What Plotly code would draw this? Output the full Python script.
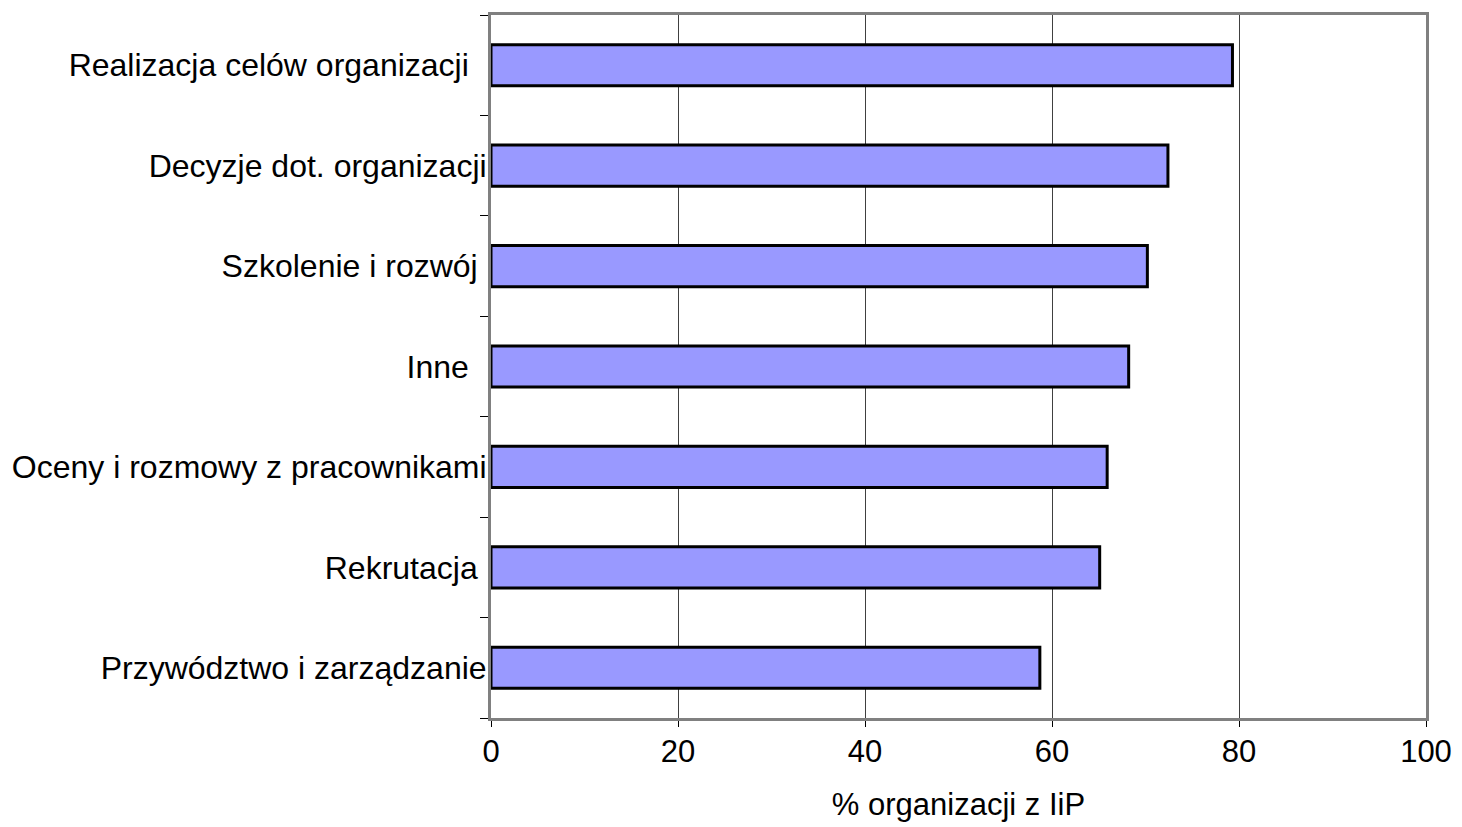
import plotly.graph_objects as go

categories = [
    "Realizacja celów organizacji",
    "Decyzje dot. organizacji",
    "Szkolenie i rozwój",
    "Inne",
    "Oceny i rozmowy z pracownikami",
    "Rekrutacja",
    "Przywództwo i zarządzanie",
]
tick_labels = [
    "Realizacja celów organizacji\u00a0\u00a0",
    "Decyzje dot. organizacji",
    "Szkolenie i rozwój\u00a0",
    "Inne\u00a0\u00a0",
    "Oceny i rozmowy z pracownikami",
    "Rekrutacja\u00a0",
    "Przywództwo i zarządzanie",
]
values = [79.3, 72.4, 70.2, 68.2, 65.9, 65.1, 58.7]
x_ticks = [0, 20, 40, 60, 80, 100]

FONT = "Liberation Sans, Arial, sans-serif"

fig = go.Figure(
    go.Bar(
        x=values,
        y=categories,
        orientation="h",
        width=0.41,
        marker=dict(color="#9999FF", line=dict(color="#000000", width=3)),
    )
)

fig.update_layout(
    width=1462,
    height=827,
    margin=dict(l=491, r=36, t=15, b=109),
    paper_bgcolor="white",
    plot_bgcolor="white",
    showlegend=False,
    font=dict(family=FONT, size=32, color="#000000"),
)

fig.update_xaxes(
    range=[0, 100],
    automargin=False,
    tickvals=x_ticks,
    ticktext=[str(v) for v in x_ticks],
    showgrid=True,
    gridcolor="#404040",
    gridwidth=1,
    zeroline=False,
    showline=True,
    linecolor="#808080",
    linewidth=3,
    mirror=True,
    ticks="outside",
    ticklen=6,
    tickcolor="#000000",
    tickwidth=1,
    ticklabelstandoff=-2,
    tickfont=dict(family=FONT, size=31, color="#000000"),
    title=dict(text="% organizacji z IiP", font=dict(family=FONT, size=31, color="#000000"), standoff=26),
)

fig.update_yaxes(
    categoryorder="array",
    categoryarray=categories,
    tickvals=categories,
    ticktext=tick_labels,
    autorange="reversed",
    automargin=False,
    showgrid=False,
    zeroline=False,
    showline=True,
    linecolor="#808080",
    linewidth=3,
    mirror=True,
    ticks="outside",
    tickson="boundaries",
    ticklen=8,
    tickcolor="#000000",
    tickwidth=1,
    ticklabelstandoff=-5,
    tickfont=dict(family=FONT, size=32, color="#000000"),
)

fig.write_html("out.html")
